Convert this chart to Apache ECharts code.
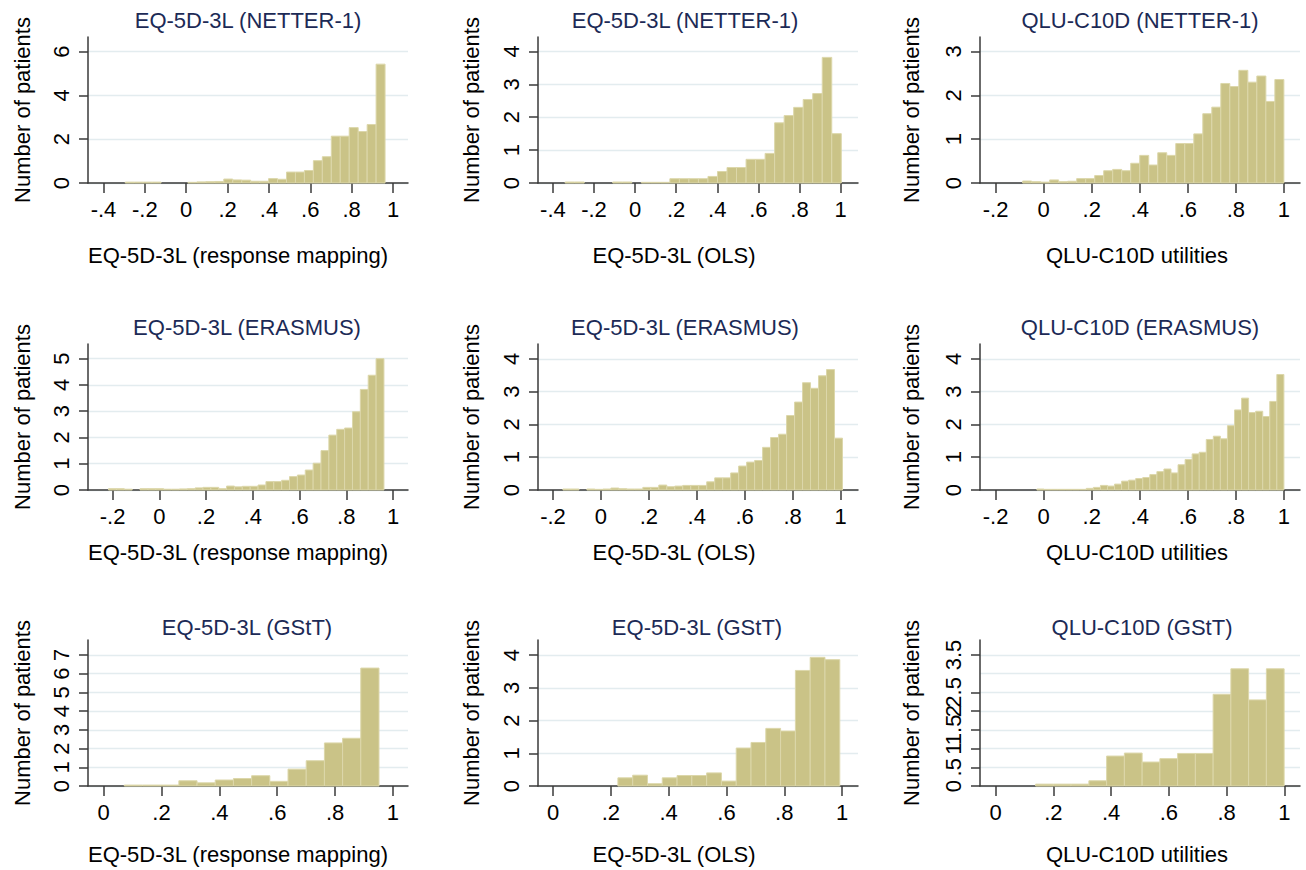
<!DOCTYPE html>
<html>
<head>
<meta charset="utf-8">
<title>Utility distributions</title>
<script src="https://cdn.jsdelivr.net/npm/echarts@6/dist/echarts.min.js"></script>
<style>
  html, body { margin: 0; padding: 0; background: #fff; }
  #main { width: 1306px; height: 870px; }
</style>
</head>
<body>
<div id="main"></div>
<script>
// panels, row by row: NETTER-1, ERASMUS, GStT / columns: mapping, OLS, QLU-C10D
var panelTitles = [
    'EQ-5D-3L (NETTER-1)', 'EQ-5D-3L (NETTER-1)', 'QLU-C10D (NETTER-1)',
    'EQ-5D-3L (ERASMUS)', 'EQ-5D-3L (ERASMUS)', 'QLU-C10D (ERASMUS)',
    'EQ-5D-3L (GStT)', 'EQ-5D-3L (GStT)', 'QLU-C10D (GStT)'
];
var xTitles = ['EQ-5D-3L (response mapping)', 'EQ-5D-3L (OLS)', 'QLU-C10D utilities'];
var yTitle = 'Number of patients';

// histogram bins: left edge of first bin and bin width
var binStart = [-0.295, -0.3405, -0.0876, -0.217, -0.1583, -0.028, 0.0714, 0.2244, 0.1386];
var binWidth = [0.04333, 0.04635, 0.0375, 0.03366, 0.03333, 0.02937, 0.06288, 0.05117, 0.06146];

// bar heights (density)
var netterMapping = [0.04, 0.04, 0.04, 0.04, 0, 0, 0, 0.03, 0.05, 0.06, 0.07, 0.18, 0.14, 0.13, 0.08,
    0.08, 0.2, 0.17, 0.5, 0.5, 0.57, 1.02, 1.2, 2.14, 2.14, 2.53, 2.35, 2.67, 5.43];
var netterOls = [0.03, 0.03, 0, 0, 0, 0.03, 0.03, 0, 0.02, 0.02, 0.02, 0.13, 0.13, 0.13, 0.13,
    0.2, 0.35, 0.47, 0.47, 0.72, 0.72, 0.9, 1.83, 2.05, 2.3, 2.54, 2.72, 3.82, 1.5];
var netterQlu = [0.045, 0.03, 0.02, 0.07, 0.03, 0.04, 0.1, 0.1, 0.17, 0.28, 0.31, 0.28, 0.45, 0.63, 0.41,
    0.69, 0.63, 0.9, 0.9, 1.12, 1.58, 1.73, 2.27, 2.2, 2.57, 2.3, 2.44, 1.86, 2.36];
var erasmusMapping = [0.05, 0.05, 0.03, 0, 0.05, 0.05, 0.05, 0.03, 0.03, 0.04, 0.05, 0.08, 0.1, 0.1, 0.05,
    0.15, 0.12, 0.14, 0.14, 0.19, 0.32, 0.32, 0.37, 0.51, 0.57, 0.76, 1.02, 1.5, 2.09, 2.31,
    2.36, 2.98, 3.83, 4.37, 5.0];
var erasmusOls = [0.03, 0.03, 0, 0.03, 0.02, 0.03, 0.06, 0.04, 0.03, 0.03, 0.08, 0.08, 0.15, 0.1, 0.12,
    0.14, 0.14, 0.14, 0.25, 0.37, 0.37, 0.52, 0.73, 0.85, 0.9, 1.3, 1.6, 1.7, 2.27, 2.68,
    3.27, 3.1, 3.48, 3.67, 1.58];
var erasmusQlu = [0.03, 0.02, 0.02, 0.02, 0.02, 0.02, 0.02, 0.05, 0.08, 0.14, 0.12, 0.18, 0.27, 0.3, 0.35,
    0.38, 0.47, 0.56, 0.64, 0.52, 0.77, 0.93, 1.1, 1.15, 1.54, 1.64, 1.56, 1.96, 2.44, 2.8,
    2.36, 2.4, 2.24, 2.7, 3.52];
var gsttMapping = [0.05, 0.05, 0.05, 0.28, 0.17, 0.32, 0.4, 0.55, 0.25, 0.9, 1.35, 2.3, 2.55, 6.3];
var gsttOls = [0.25, 0.33, 0.07, 0.25, 0.32, 0.32, 0.4, 0.15, 1.16, 1.33, 1.76, 1.68, 3.53, 3.93, 3.86];
var gsttQlu = [0.05, 0.05, 0.05, 0.14, 0.8, 0.88, 0.64, 0.73, 0.87, 0.87, 2.45, 3.13, 2.3, 3.13];

var heights = [netterMapping, netterOls, netterQlu, erasmusMapping, erasmusOls, erasmusQlu,
    gsttMapping, gsttOls, gsttQlu];

// tick labels
var xTicksWide = [-0.4, -0.2, 0, 0.2, 0.4, 0.6, 0.8, 1];
var xTicksMid = [-0.2, 0, 0.2, 0.4, 0.6, 0.8, 1];
var xTicksPos = [0, 0.2, 0.4, 0.6, 0.8, 1];
var xTicks = [xTicksWide, xTicksWide, xTicksMid, xTicksMid, xTicksMid, xTicksMid,
    xTicksPos, xTicksPos, xTicksPos];
var yTicks = [
    [0, 2, 4, 6], [0, 1, 2, 3, 4], [0, 1, 2, 3],
    [0, 1, 2, 3, 4, 5], [0, 1, 2, 3, 4], [0, 1, 2, 3, 4],
    [0, 1, 2, 3, 4, 5, 6, 7], [0, 1, 2, 3, 4], [0, 0.5, 1, 1.5, 2, 2.5, 3, 3.5]
];

// axis ranges (stata pads the plot region a little)
var xMin = [-0.475, -0.4726, -0.265, -0.305, -0.2625, -0.265, -0.054, -0.052, -0.054];
var xMax = [1.0725, 1.085, 1.067, 1.064, 1.073, 1.067, 1.052, 1.055, 1.054];
var yMax = [6.67, 4.44, 3.33, 5.56, 4.45, 4.45, 7.8, 4.46, 3.9];

// layout
var colLeft = [88, 538, 980];
var rowTop = [37, 344, 640];
var plotW = 320, plotH = 146;
var titlePos = [[248, 20], [685, 20], [1140, 20], [247, 327], [685, 327], [1140, 327],
    [247, 627], [697, 627], [1142, 627]];
var xNameShift = [-10, -24, -3];
var xNameGap = [61, 51, 57];
var yNameGap = [55, 56, 58];

var FONT = 'Liberation Sans, Arial, sans-serif';
var FONT_SIZE = 22;
var AXIS_COLOR = '#3a3a3a';
var BAR_FILL = '#cac387';
var BAR_EDGE = '#dcd7aa';
var GRID_COLOR = '#e3ecef';

function stataLabel(v) {
    var s = String(Math.round(v * 100) / 100);
    return s.replace(/^(-?)0\./, '$1.');
}

function renderBin(params, api) {
    var h = api.value(2);
    if (!h) return null;
    var top = api.coord([api.value(0), h]);
    var base = api.coord([api.value(1), 0]);
    return {
        type: 'rect',
        shape: { x: top[0], y: top[1], width: base[0] - top[0], height: base[1] - top[1] },
        style: { fill: BAR_FILL, stroke: BAR_EDGE, lineWidth: 1 }
    };
}

var grids = [], xAxes = [], yAxes = [], series = [], texts = [];

for (var i = 0; i < 9; i++) {
    var row = Math.floor(i / 3), col = i % 3;
    grids.push({
        left: colLeft[col], top: rowTop[row], width: plotW, height: plotH,
        containLabel: false, outerBoundsMode: 'none'
    });
    xAxes.push({
        type: 'value', gridIndex: i, min: xMin[i], max: xMax[i],
        axisLine: { show: true, onZero: false, lineStyle: { color: AXIS_COLOR, width: 1.5 } },
        axisTick: { show: true, length: 10, customValues: xTicks[i], lineStyle: { color: AXIS_COLOR, width: 1.5 } },
        axisLabel: {
            customValues: xTicks[i], formatter: stataLabel, margin: 15,
            showMinLabel: true, showMaxLabel: true, hideOverlap: false,
            color: '#000', fontSize: FONT_SIZE, fontFamily: FONT
        },
        splitLine: { show: false },
        name: xTitles[col], nameLocation: 'middle', nameGap: xNameGap[row],
        nameTextStyle: {
            color: '#000', fontSize: FONT_SIZE, fontFamily: FONT,
            padding: xNameShift[col] < 0 ? [0, -2 * xNameShift[col], 0, 0] : 0
        }
    });
    yAxes.push({
        type: 'value', gridIndex: i, min: 0, max: yMax[i],
        axisLine: { show: true, onZero: false, lineStyle: { color: AXIS_COLOR, width: 1.5 } },
        axisTick: { show: true, length: 9, customValues: yTicks[i], lineStyle: { color: AXIS_COLOR, width: 1.5 } },
        axisLabel: {
            customValues: yTicks[i], formatter: stataLabel, rotate: 90, margin: 16,
            showMinLabel: true, showMaxLabel: true, hideOverlap: false,
            color: '#000', fontSize: FONT_SIZE, fontFamily: FONT
        },
        splitLine: { show: true, lineStyle: { color: GRID_COLOR, width: 1.3 } },
        name: yTitle, nameLocation: 'middle', nameGap: yNameGap[col],
        nameTextStyle: { color: '#000', fontSize: FONT_SIZE, fontFamily: FONT }
    });
    var data = heights[i].map(function (h, k) {
        return [binStart[i] + k * binWidth[i], binStart[i] + (k + 1) * binWidth[i], h];
    });
    series.push({
        type: 'custom', xAxisIndex: i, yAxisIndex: i,
        renderItem: renderBin, encode: { x: [0, 1], y: 2 },
        data: data, silent: true, animation: false
    });
    texts.push({
        type: 'text', x: titlePos[i][0], y: titlePos[i][1],
        style: {
            text: panelTitles[i], fill: '#1c2a56', font: FONT_SIZE + 'px ' + FONT,
            align: 'center', verticalAlign: 'middle'
        }
    });
}

var chart = echarts.init(document.getElementById('main'), null, { renderer: 'svg' });
chart.setOption({
    backgroundColor: '#fff',
    animation: false,
    grid: grids,
    xAxis: xAxes,
    yAxis: yAxes,
    series: series,
    graphic: texts
});
</script>
</body>
</html>
